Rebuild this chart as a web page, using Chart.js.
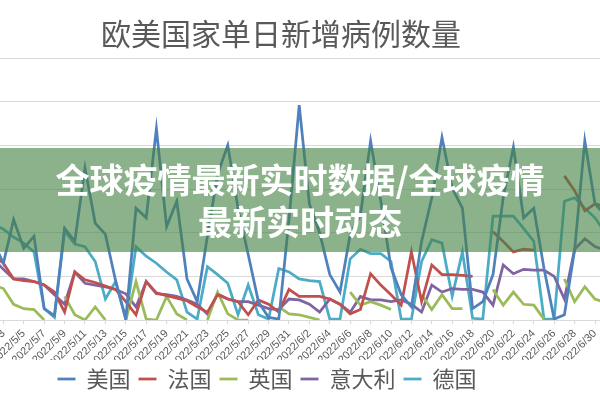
<!DOCTYPE html>
<html>
<head>
<meta charset="utf-8">
<script src="https://cdn.jsdelivr.net/npm/chart.js@4.4.0/dist/chart.umd.min.js"></script>
<style>
    html, body { margin: 0; padding: 0; width: 600px; height: 400px; overflow: hidden; background: #fff; }
    #wrap { position: relative; width: 600px; height: 400px; overflow: hidden; }
    #chartBox { position: absolute; left: -66px; top: 0; width: 666px; height: 400px; }
    #titulo {
        position: absolute; left: 0; top: 13px; width: 562px; text-align: center;
        font: 30px "Noto Sans CJK SC", sans-serif; color: #595959; line-height: 38px;
    }
    #banner {
        position: absolute; left: 0; top: 148px; width: 600px; height: 104px;
        background: rgba(70, 130, 70, 0.62);
        display: flex; flex-direction: column; justify-content: center; align-items: center;
        color: #fff; font: bold 34px "Noto Sans CJK SC", sans-serif; line-height: 42px;
    }
</style>
</head>
<body>
<div id="wrap">
    <div id="chartBox"><canvas id="casos"></canvas></div>
    <div id="titulo">欧美国家单日新增病例数量</div>
    <div id="banner"><div>全球疫情最新实时数据/全球疫情</div><div>最新实时动态</div></div>
</div>
<script>
// fechas 2022/5/1 .. 2022/7/3 (una por día)
const fechas = [];
for (let m = 5; m <= 7; m++) {
    const dias = m === 5 ? 31 : (m === 6 ? 30 : 3);
    for (let d = 1; d <= dias; d++) fechas.push('2022/' + m + '/' + d);
}

const paises = ['美国', '法国', '英国', '意大利', '德国'];
const colores = ['#4F81BD', '#C0504D', '#9BBB59', '#8064A2', '#4BACC6'];

// casos diarios (miles); null = sin dato
const usa = [20, 90, 65, 115, 82, 96, 13, 5, 105, 90, 174, 111, 98, 45, 1, 128, 117, 219, 107, 136, 47, 21,
    96, 167, 200, 128, 75, 21, 3, 1, 115, 246, 133, 100, 52, 32, 98, 120, 205, 136, 60, 29, 15, 90, 140, 209,
    151, 128, 13, 21, 52, 140, 198, 117, 128, 59, 1, 6, 80, 205, 133, 120, 20, 10];
const francia = [70, 75, 65, 47, 45, 44, 40, 32, 9, 55, 46, 43, 39, 35, 21, 6, 44, 31, 28, 25, 22, 15, 9, 29,
    24, 21, 6, 23, 18, 9, 35, 27, 27, 27, 24, 18, 7, 12, 53, 40, 29, 17, 78, 21, 63, 52, 52, 51, 50, null, 101,
    90, 78, 81, 80, null, null, 165, 148, 125, 133, 130, null, null];
const reinoUnido = [40, 40, 36, 18, 13, 12, 0, null, 27, 6, 0, 15, 0, null, 0, 44, 1, 0, 27, 7, 0, null, 0, 32,
    7, 0, 0, null, null, 15, 7, 6, 3, 0, null, null, 32, 17, 21, 17, 12, null, null, 29, 12, 29, 13, 13, null, null,
    35, 17, 32, 18, 17, 1, null, 47, 21, 38, 24, 20, null, null];
const italia = [65, 70, 58, 47, 47, 44, 40, 29, 18, 55, 42, 40, 38, 35, 30, 15, 44, 30, 29, 27, 23, 18, 7, 30,
    24, 21, 21, 17, 13, 12, 24, 23, 18, 9, 24, 18, 9, 27, 23, 23, 21, 23, 18, 9, 40, 32, 36, 35, 35, 32, 17, 63,
    53, 58, 57, 57, 50, 24, 81, 93, 84, 80, 75, 70];
const alemania = [5, 110, 104, 95, 88, 78, 13, 3, 102, 87, 84, 67, 24, 44, 1, 84, 73, 65, 55, 46, 9, 1,
    61, 52, 42, 6, 40, 6, 1, 59, 55, 47, 45, 44, 1, 1, 70, 81, 76, 76, 67, 1, 1, 67, 92, 88, 27, 78, 2, 1,
    119, 119, 119, 105, 90, 1, 1, 136, 140, 128, 117, 100, 1, 1];

const series = [usa, francia, reinoUnido, italia, alemania];

// escala y (miles)
const yMin = 0, yMax = 300, yStep = 50;

const ctx = document.getElementById('casos').getContext('2d');
new Chart(ctx, {
    type: 'line',
    data: {
        datasets: series.map((valores, k) => ({
            label: paises[k],
            data: valores.map((v, i) => ({ x: i, y: v })),
            borderColor: colores[k],
            backgroundColor: colores[k],
            borderWidth: 2.75,
            pointRadius: 0,
            tension: 0,
            spanGaps: false
        }))
    },
    options: {
        responsive: true,
        maintainAspectRatio: false,
        animation: false,
        layout: { padding: { top: 58, left: 0, right: 0, bottom: 0 } },
        plugins: {
            title: { display: false },
            tooltip: { enabled: false },
            legend: {
                position: 'bottom',
                labels: {
                    usePointStyle: true,
                    pointStyle: 'line',
                    pointStyleWidth: 18,
                    padding: 8,
                    color: '#595959',
                    font: { family: '"Noto Sans CJK SC", sans-serif', size: 22 }
                }
            }
        },
        scales: {
            x: {
                type: 'linear',
                min: 1.667,
                max: 60.49,
                afterFit: (scale) => { scale.height = 40; scale.paddingLeft = 0; scale.paddingRight = 0; },
                ticks: {
                    stepSize: 2,
                    includeBounds: false,
                    autoSkip: false,
                    maxRotation: 45,
                    minRotation: 45,
                    color: '#595959',
                    font: { family: '"Liberation Sans", sans-serif', size: 11 },
                    callback: (v) => fechas[v] || ''
                },
                grid: { drawOnChartArea: false, drawTicks: true, tickLength: 4, color: '#d9d9d9' },
                border: { color: '#d9d9d9' }
            },
            y: {
                min: yMin,
                max: yMax,
                afterFit: (scale) => { scale.width = 66; },
                ticks: { stepSize: yStep, display: false },
                grid: { color: '#d9d9d9', drawTicks: false },
                border: { display: false }
            }
        }
    }
});
</script>
</body>
</html>
